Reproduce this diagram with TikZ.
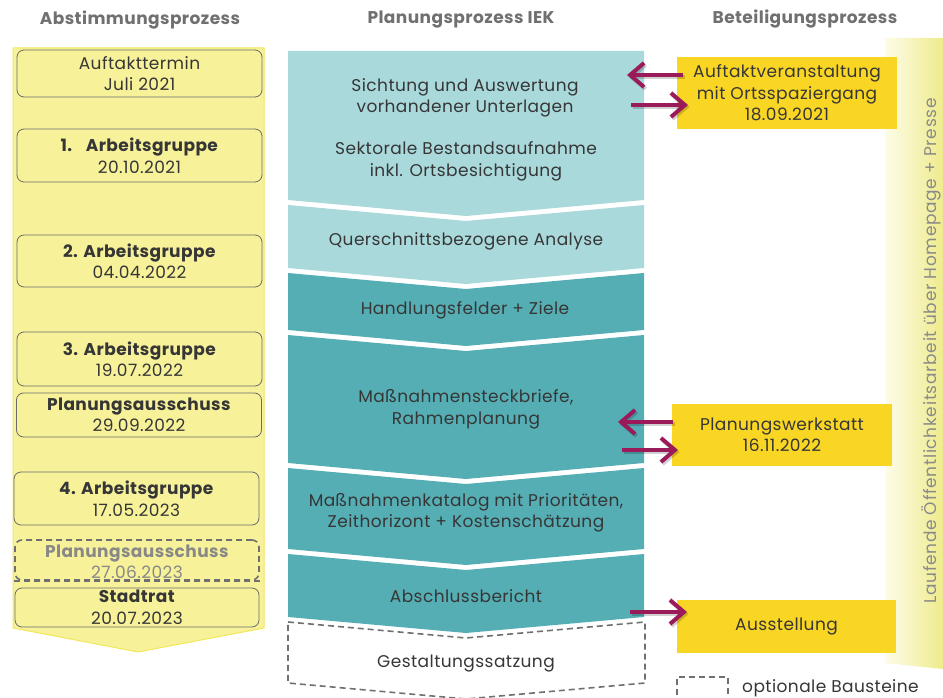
\documentclass[tikz,border=0pt]{standalone}
\usepackage{fontspec}
\setmainfont{Poppins}[LetterSpace=2.5]
\usetikzlibrary{arrows.meta}
\definecolor{headgray}{HTML}{707070}
\definecolor{txt}{HTML}{363636}
\definecolor{colfill}{HTML}{F7F29A}
\definecolor{colline}{HTML}{F2E75A}
\definecolor{boxline}{HTML}{6A6A6A}
\definecolor{tealA}{HTML}{AAD9DC}
\definecolor{tealB}{HTML}{56AEB5}
\definecolor{gold}{HTML}{FAD624}
\definecolor{purp}{HTML}{9B1A5A}
\definecolor{dashgray}{HTML}{707070}
\definecolor{optgray}{HTML}{888888}
\definecolor{bandL}{HTML}{FDFCE8}
\definecolor{bandR}{HTML}{EEEB8C}
\definecolor{bandtxt}{HTML}{8A8A8A}
\newcommand\bodyfont{\fontsize{17}{21.5}\selectfont}
\newcommand\headfont{\fontsize{17}{20}\selectfont\bfseries}
\begin{document}
\begin{tikzpicture}[x=1pt,y=-1pt,
  heading/.style={text=headgray,font=\headfont,inner sep=0pt},
  lbox/.style={draw=boxline,line width=0.8pt,rounded corners=7pt,fill=colfill,
    minimum width=245pt,align=center,text=txt,font=\bodyfont,inner sep=0pt},
  optbox/.style={lbox,draw=dashgray,dash pattern=on 6pt off 4pt,line width=1.6pt,text=optgray},
  mtext/.style={align=center,text=txt,font=\bodyfont,inner sep=0pt},
  gbox/.style={fill=gold,minimum width=220pt,align=center,text=txt,font=\bodyfont,inner sep=0pt},
  parr/.style={draw=purp,line width=4pt,-{Straight Barb[length=14pt,width=24pt]}},
  parrshadow/.style={draw=black,opacity=0.18,line width=4pt,-{Straight Barb[length=14pt,width=24pt]},
    transform canvas={shift={(1.5pt,-2pt)}}},
  optline/.style={draw=dashgray,line width=1.6pt,dash pattern=on 6pt off 4pt}]
\useasboundingbox (0,0) rectangle (943,698);

% column headings
\node[heading] (h1) at (140,20) {Abstimmungsprozess};
\node[heading] (h2) at (461,20) {Planungsprozess IEK};
\node[heading] (h3) at (805,19) {Beteiligungsprozess};

% left column: coordination arrow
\fill[colfill] (13,48) -- (264,48) -- (264,628) -- (138,652) -- (13,628) -- cycle;
\draw[colline,line width=1pt] (13,48) -- (264,48) -- (264,628) -- (138,652) -- (13,628) -- cycle;

\node[lbox,minimum height=47pt] (b1) at (139.5,73.5) {Auftakttermin\\Juli 2021};
\node[lbox,minimum height=53pt] (b2) at (139.5,155.5) {\textbf{1.\hspace{0.8em}Arbeitsgruppe}\\20.10.2021};
\node[lbox,minimum height=52pt] (b3) at (139.5,261) {\textbf{2. Arbeitsgruppe}\\04.04.2022};
\node[lbox,minimum height=54pt] (b4) at (139.5,359) {\textbf{3. Arbeitsgruppe}\\19.07.2022};
\node[lbox,minimum height=44pt] (b5) at (139,415) {\textbf{Planungsausschuss}\\29.09.2022};
\node[lbox,minimum height=53pt] (b6) at (136.5,498.5) {\textbf{4. Arbeitsgruppe}\\17.05.2023};
\node[optbox,minimum width=244pt,minimum height=40pt] (b7) at (137,560) {};
\node[mtext,text=optgray] (b7t) at (137,562) {\textbf{Planungsausschuss}\\27.06.2023};
\draw[dashgray,line width=1.6pt,dash pattern=on 6pt off 4pt] (b7.south west) -- (b7.south east);
\node[lbox,minimum width=244pt,minimum height=39pt] (b8) at (137,607.5) {\textbf{Stadtrat}\\20.07.2023};

% middle column: planning steps
\fill[tealA] (288,51) -- (644,51) -- (644,200) -- (466,216) -- (288,200) -- cycle;
\fill[tealA] (288,205) -- (466,221) -- (644,205) -- (644,268) -- (466,284) -- (288,268) -- cycle;
\fill[tealB] (288,273) -- (466,289) -- (644,273) -- (644,330) -- (466,346) -- (288,330) -- cycle;
\fill[tealB] (288,335) -- (466,351) -- (644,335) -- (644,463) -- (466,479) -- (288,463) -- cycle;
\fill[tealB] (288,468) -- (466,484) -- (644,468) -- (644,549) -- (466,565) -- (288,549) -- cycle;
\fill[tealB] (288,554) -- (466,570) -- (644,554) -- (644,617) -- (466,633) -- (288,617) -- cycle;
\draw[optline] (288,622) -- (466,638) -- (645,622) -- (645,683) -- (466,699) -- (288,683) -- cycle;

\node[mtext] (m1) at (465,98) {Sichtung und Auswertung\\vorhandener Unterlagen};
\node[mtext] (m1b) at (466,161.5) {Sektorale Bestandsaufnahme\\inkl. Ortsbesichtigung};
\node[mtext] (m2) at (466,241) {Querschnittsbezogene Analyse};
\node[mtext] (m3) at (465,310) {Handlungsfelder + Ziele};
\node[mtext] (m4) at (466,409) {Maßnahmensteckbriefe,\\Rahmenplanung};
\node[mtext] (m5) at (466,512.5) {Maßnahmenkatalog mit Prioritäten,\\Zeithorizont + Kostenschätzung};
\node[mtext] (m6) at (466,596) {Abschlussbericht};
\node[mtext] (m7) at (466,664) {Gestaltungssatzung};

% right band: ongoing public relations
\shade[left color=bandL,right color=bandR] (885,38) -- (943,38) -- (943,669) -- (885,663) -- cycle;
\node[rotate=90,text=bandtxt,font=\fontsize{17}{20}\selectfont\addfontfeature{LetterSpace=4},inner sep=0pt] (band) at (931,351)
  {Laufende Öffentlichkeitsarbeit über Homepage + Presse};

% participation events
\node[gbox,minimum height=72pt] (pA) at (787,93) {Auftaktveranstaltung\\mit Ortsspaziergang\\18.09.2021};
\node[gbox,minimum height=62pt] (pB) at (782,435) {Planungswerkstatt\\16.11.2022};
\node[gbox,minimum width=219pt,minimum height=53pt] (pC) at (786.5,626.5) {Ausstellung};

% exchange arrows
\coordinate (a1s) at (683,75);   \coordinate (a1e) at (627,75);
\coordinate (a2s) at (631,105);  \coordinate (a2e) at (688,105);
\coordinate (b1s) at (673,422);  \coordinate (b1e) at (618,422);
\coordinate (b2s) at (622,450);  \coordinate (b2e) at (678,450);
\coordinate (c1s) at (630,612);  \coordinate (c1e) at (687,612);
\foreach \s/\e in {a1s/a1e,a2s/a2e,b1s/b1e,b2s/b2e,c1s/c1e}{
  \draw[parrshadow] (\s) -- (\e);
  \draw[parr] (\s) -- (\e);
}

% legend
\draw[optline] (677,705) -- (677,677) -- (728,677) -- (728,705);
\node[anchor=west,text=txt,font=\bodyfont,inner sep=0pt] (leg) at (742,688) {optionale Bausteine};
\end{tikzpicture}
\end{document}
